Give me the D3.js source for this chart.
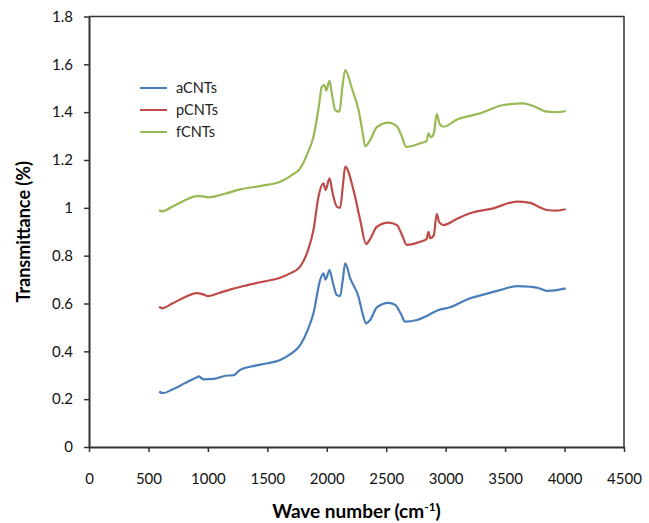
<!DOCTYPE html>
<html>
<head>
<meta charset="utf-8">
<script src="https://cdn.jsdelivr.net/npm/d3@7"></script>
<style>
  body { margin: 0; background: #fff; }
  svg { display: block; font-family: Lato, "Open Sans", sans-serif; }
</style>
</head>
<body>
<svg id="chart"></svg>
<script>
// wave numbers (cm-1) and transmittance
const waveA = [590, 620, 700, 800, 900, 925, 960, 1050, 1150, 1215, 1270, 1400, 1500, 1608, 1700, 1776, 1840, 1888, 1944, 1972, 1990, 2023, 2050, 2084, 2112, 2135, 2155, 2197, 2267, 2300, 2331, 2365, 2421, 2519, 2575, 2620, 2659, 2757, 2850, 2925, 3037, 3205, 3300, 3458, 3598, 3710, 3780, 3850, 3934, 4010];
const transA = [0.232, 0.225, 0.24, 0.265, 0.29, 0.295, 0.283, 0.285, 0.298, 0.300, 0.322, 0.340, 0.350, 0.364, 0.390, 0.426, 0.49, 0.559, 0.698, 0.726, 0.70, 0.74, 0.69, 0.635, 0.631, 0.70, 0.768, 0.705, 0.628, 0.56, 0.517, 0.531, 0.584, 0.603, 0.594, 0.56, 0.524, 0.531, 0.55, 0.57, 0.584, 0.622, 0.635, 0.656, 0.673, 0.67, 0.665, 0.653, 0.656, 0.663];

const waveP = [590, 615, 700, 800, 908, 960, 1005, 1100, 1200, 1300, 1450, 1608, 1700, 1776, 1840, 1888, 1930, 1972, 1990, 2023, 2050, 2084, 2112, 2135, 2155, 2225, 2281, 2331, 2365, 2421, 2519, 2589, 2630, 2673, 2785, 2840, 2855, 2870, 2900, 2925, 2945, 2981, 3100, 3205, 3401, 3598, 3710, 3780, 3850, 3934, 4010];
const transP = [0.587, 0.580, 0.60, 0.625, 0.643, 0.638, 0.631, 0.645, 0.660, 0.673, 0.690, 0.708, 0.728, 0.754, 0.82, 0.907, 1.046, 1.102, 1.075, 1.123, 1.06, 1.005, 1.00, 1.09, 1.172, 1.074, 0.949, 0.849, 0.87, 0.921, 0.938, 0.928, 0.89, 0.845, 0.858, 0.87, 0.90, 0.873, 0.885, 0.975, 0.94, 0.928, 0.955, 0.977, 0.998, 1.026, 1.021, 1.005, 0.991, 0.988, 0.994];

const waveF = [590, 615, 700, 800, 908, 960, 1005, 1150, 1272, 1450, 1608, 1700, 1776, 1840, 1888, 1935, 1958, 1981, 1995, 2023, 2045, 2071, 2107, 2130, 2155, 2211, 2267, 2300, 2323, 2365, 2421, 2519, 2589, 2630, 2667, 2785, 2840, 2855, 2877, 2900, 2925, 2950, 2981, 3100, 3289, 3485, 3653, 3737, 3850, 3934, 4010];
const transF = [0.991, 0.985, 1.005, 1.03, 1.049, 1.048, 1.044, 1.06, 1.077, 1.092, 1.109, 1.135, 1.165, 1.23, 1.297, 1.43, 1.506, 1.513, 1.49, 1.531, 1.47, 1.409, 1.402, 1.50, 1.576, 1.5, 1.409, 1.32, 1.258, 1.283, 1.337, 1.356, 1.342, 1.30, 1.255, 1.27, 1.28, 1.311, 1.295, 1.31, 1.392, 1.35, 1.339, 1.37, 1.395, 1.43, 1.437, 1.426, 1.402, 1.40, 1.405];

const seriesNames = ['aCNTs', 'pCNTs', 'fCNTs'];
const seriesColors = ['#4a7ebb', '#be4b48', '#98b954'];
const xTicks = [0, 500, 1000, 1500, 2000, 2500, 3000, 3500, 4000, 4500];
const yTicks = [0, 0.2, 0.4, 0.6, 0.8, 1, 1.2, 1.4, 1.6, 1.8];

const width = 649, height = 523;
const margin = {top: 16.5, right: 25, bottom: 76, left: 89};
const innerW = width - margin.left - margin.right;
const innerH = height - margin.top - margin.bottom;

const svg = d3.select('#chart').attr('width', width).attr('height', height);
const chart = svg.append('g').attr('transform', `translate(${margin.left},${margin.top})`);

const x = d3.scaleLinear().domain([0, 4500]).range([0, innerW]);
const y = d3.scaleLinear().domain([0, 1.8]).range([innerH, 0]);

const series = [
  d3.zip(waveA, transA),
  d3.zip(waveP, transP),
  d3.zip(waveF, transF)
];

// frame (top and right)
chart.append('path')
  .attr('d', `M0,0H${innerW}V${innerH}`)
  .attr('fill', 'none')
  .attr('stroke', '#333')
  .attr('stroke-width', 1.5);

const line = d3.line()
  .x(d => x(d[0]))
  .y(d => y(d[1]))
  .curve(d3.curveMonotoneX);

chart.selectAll('path.spectrum')
  .data(series)
  .join('path')
  .attr('class', 'spectrum')
  .attr('d', line)
  .attr('fill', 'none')
  .attr('stroke', (d, i) => seriesColors[i])
  .attr('stroke-width', 2.2)
  .attr('stroke-linejoin', 'round');

const yAxis = chart.append('g')
  .call(d3.axisLeft(y).tickValues(yTicks).tickSize(5).tickSizeOuter(0).tickPadding(11)
    .tickFormat(d => String(+d.toFixed(1))));

const xAxis = chart.append('g')
  .attr('transform', `translate(0,${innerH})`)
  .call(d3.axisBottom(x).tickValues(xTicks).tickSize(5).tickSizeOuter(0).tickPadding(21)
    .tickFormat(d3.format('d')));

[yAxis, xAxis].forEach(a => {
  a.select('.domain').attr('stroke', '#333').attr('stroke-width', 2);
  a.selectAll('.tick line').attr('stroke', '#333').attr('stroke-width', 1.5);
  a.selectAll('.tick text').attr('fill', '#111').style('font-size', '15px').style('font-family', 'Lato, sans-serif');
});

// axis titles
svg.append('text')
  .attr('x', margin.left + innerW / 2)
  .attr('y', 518)
  .attr('text-anchor', 'middle')
  .style('font-size', '19px')
  .style('font-weight', 'bold')
  .text('Wave number (cm')
  .call(t => t.append('tspan').attr('dy', -7).style('font-size', '12px').text('-1'))
  .call(t => t.append('tspan').attr('dy', 7).text(')'));

svg.append('text')
  .attr('transform', `translate(30,${margin.top + innerH / 2}) rotate(-90)`)
  .attr('text-anchor', 'middle')
  .style('font-size', '18px')
  .style('font-weight', 'bold')
  .text('Transmittance (%)');

// legend
const legend = svg.append('g').attr('transform', 'translate(140,88)');
const items = legend.selectAll('g')
  .data(seriesNames)
  .join('g')
  .attr('transform', (d, i) => `translate(0,${i * 22})`);
items.append('line')
  .attr('x1', 0).attr('x2', 27)
  .attr('stroke', (d, i) => seriesColors[i])
  .attr('stroke-width', 2);
items.append('text')
  .attr('x', 36)
  .attr('dy', '0.35em')
  .style('font-size', '14.5px')
  .attr('fill', '#222')
  .text(d => d);
</script>
</body>
</html>
